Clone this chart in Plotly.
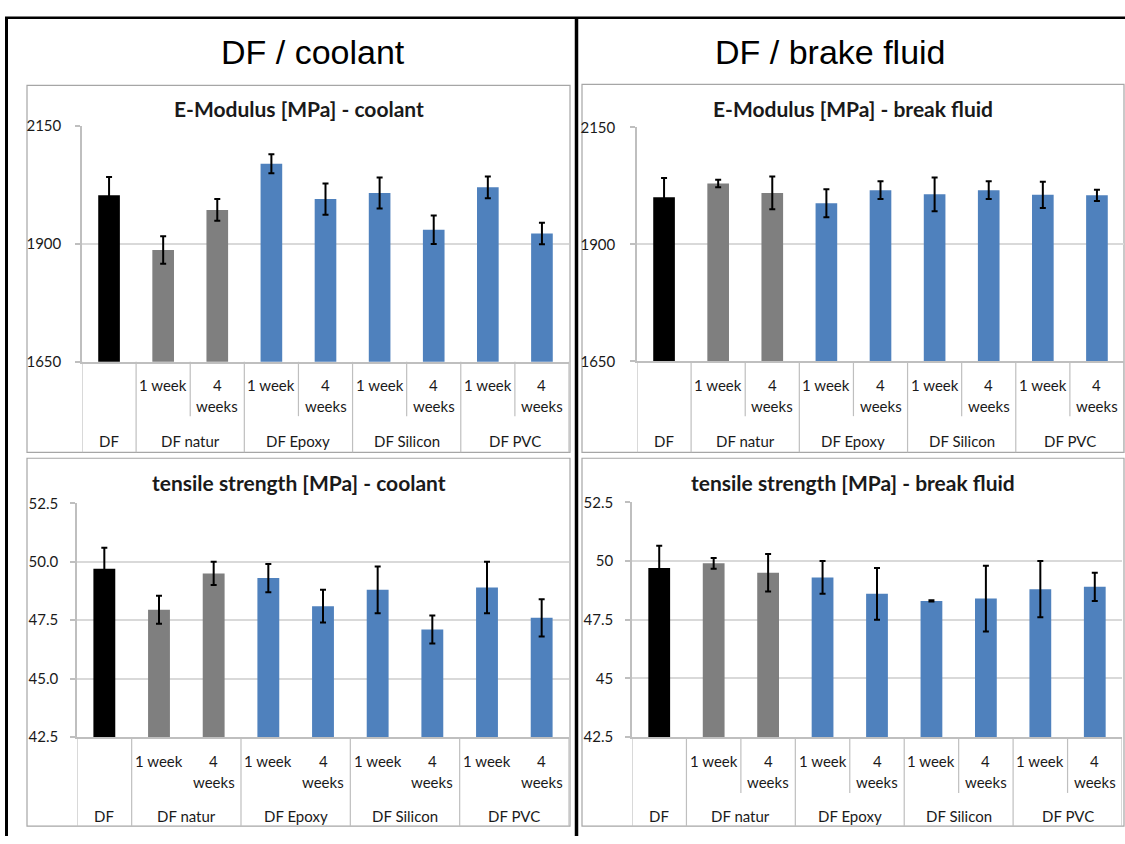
import plotly.graph_objects as go

# ---------------- data ----------------
groups = ["DF", "DF natur", "DF natur", "DF Epoxy", "DF Epoxy",
          "DF Silicon", "DF Silicon", "DF PVC", "DF PVC"]
sub_labels = ["", "1 week", "4<br>weeks", "1 week", "4<br>weeks",
              "1 week", "4<br>weeks", "1 week", "4<br>weeks"]

emod_coolant = [2003, 1887, 1972, 2070, 1995, 2008, 1930, 2020, 1922]
emod_coolant_err = [39, 29, 23, 20, 33, 33, 30, 23, 23]
emod_brake = [2001, 2030, 2010, 1988, 2016, 2007, 2016, 2006, 2005]
emod_brake_err = [41, 8, 35, 30, 19, 36, 19, 28, 12]
ts_coolant = [49.7, 47.95, 49.5, 49.3, 48.1, 48.8, 47.1, 48.9, 47.6]
ts_coolant_err = [0.9, 0.6, 0.5, 0.6, 0.7, 1.0, 0.6, 1.1, 0.8]
ts_brake = [49.7, 49.9, 49.5, 49.3, 48.6, 48.3, 48.4, 48.8, 48.9]
ts_brake_err = [0.95, 0.23, 0.8, 0.7, 1.1, 0.03, 1.4, 1.2, 0.6]

emod_ticks = [1650, 1900, 2150]
ts_ticks = [42.5, 45.0, 47.5, 50.0, 52.5]
ts_ticks_left = ["42.5", "45.0", "47.5", "50.0", "52.5"]
ts_ticks_right = ["42.5", "45", "47.5", "50", "52.5"]

header_left = "DF / coolant"
header_right = "DF / brake fluid"
titles = ["E-Modulus [MPa] - coolant", "E-Modulus [MPa] - break fluid",
          "tensile strength [MPa] - coolant", "tensile strength [MPa] - break fluid"]

# ---------------- styles ----------------
W, H = 1125, 844
group_colors = {"DF": "#000000", "DF natur": "#7f7f7f"}
default_color = "#4f81bd"
FONT = "Lato"
TXT = "#1a1a1a"
GRID = "#d9d9d9"
AX = "#bfbfbf"
BOX = "#a6a6a6"


def px(x):
    return x / W


def py(y):
    return 1 - y / H


# panel geometry in pixels
panels = [
    dict(vals=emod_coolant, err=emod_coolant_err, ticks=emod_ticks, ticktext=[str(t) for t in emod_ticks],
         rng=[1650, 2150], plot=(82, 569, 118.5, 359.5), box=(27, 570, 77, 452), title_y=101,
         row1=383, group_y=440, inner_end=415, inner=True, standoff=11),
    dict(vals=emod_brake, err=emod_brake_err, ticks=emod_ticks, ticktext=[str(t) for t in emod_ticks],
         rng=[1650, 2150], plot=(637, 1124, 120, 359), box=(582, 1124, 76, 452), title_y=101,
         row1=383, group_y=440, inner_end=415, inner=True, standoff=12),
    dict(vals=ts_coolant, err=ts_coolant_err, ticks=ts_ticks, ticktext=ts_ticks_left,
         rng=[42.5, 52.5], plot=(77, 569, 504, 743), box=(27, 570, 458, 834), title_y=483,
         row1=767, group_y=824, inner_end=800, inner=False, standoff=9),
    dict(vals=ts_brake, err=ts_brake_err, ticks=ts_ticks, ticktext=ts_ticks_right,
         rng=[42.5, 52.5], plot=(632, 1122, 503, 743), box=(582, 1124, 458, 834), title_y=483,
         row1=767, group_y=824, inner_end=800, inner=True, standoff=9),
]

fig = go.Figure()
shapes = []
annotations = []
n = len(groups)
xs = list(range(n))
colors = [group_colors.get(g, default_color) for g in groups]

# group boundaries derived from the category arrays
group_bounds = [-0.5] + [i - 0.5 for i in range(1, n) if groups[i] != groups[i - 1]] + [n - 0.5]
inner_bounds = [i - 0.5 for i in range(1, n) if groups[i] == groups[i - 1]]
group_spans = []
start = 0
for i in range(1, n + 1):
    if i == n or groups[i] != groups[start]:
        group_spans.append((groups[start], (start + i - 1) / 2))
        start = i

for k, p in enumerate(panels):
    idx = "" if k == 0 else str(k + 1)
    xa, ya = "x" + idx, "y" + idx
    x0, x1, y0, y1 = p["plot"]
    fig.add_trace(go.Bar(
        x=xs, y=p["vals"], xaxis=xa, yaxis=ya, width=0.4,
        marker=dict(color=colors, line=dict(width=0)),
        error_y=dict(type="data", array=p["err"], color="#000000", thickness=2, width=3),
        showlegend=False, hoverinfo="skip"))
    fig.update_layout(**{
        "xaxis" + idx: dict(domain=[px(x0), px(x1)], anchor=ya, range=[-0.5, n - 0.5],
                            showticklabels=False, showgrid=False, zeroline=False,
                            showline=True, linecolor=AX, linewidth=1.5, ticks="", fixedrange=True),
        "yaxis" + idx: dict(domain=[py(y1), py(y0)], anchor=xa, range=p["rng"],
                            tickvals=p["ticks"], ticktext=p["ticktext"],
                            showgrid=True, gridcolor=GRID, gridwidth=1.5, zeroline=False,
                            showline=True, linecolor=AX, linewidth=1.5,
                            ticks="outside", ticklen=5, tickcolor=AX, tickwidth=1.5,
                            ticklabelstandoff=p["standoff"],
                            tickfont=dict(family=FONT, size=15, color=TXT), fixedrange=True),
    })
    bx0, bx1, by0, by1 = p["box"]
    shapes.append(dict(type="rect", xref="paper", yref="paper", x0=px(bx0), x1=px(bx1),
                       y0=py(by1), y1=py(by0), line=dict(color=BOX, width=1.2), layer="below"))
    # category separators
    for b in group_bounds:
        shapes.append(dict(type="line", xref=xa, yref="paper", x0=b, x1=b, y0=py(y1), y1=py(by1),
                           line=dict(color=AX, width=1.2)))
    if p["inner"]:
        for b in inner_bounds:
            shapes.append(dict(type="line", xref=xa, yref="paper", x0=b, x1=b, y0=py(y1),
                               y1=py(p["inner_end"]), line=dict(color=AX, width=1.2)))
    # sub-category labels
    for i, lab in enumerate(sub_labels):
        for j, line in enumerate(lab.split("<br>")):
            if line:
                annotations.append(dict(x=i, xref=xa, y=py(p["row1"] + 22 * j), yref="paper",
                                        text=line, showarrow=False, xanchor="center", yanchor="middle",
                                        font=dict(family=FONT, size=15, color=TXT)))
    for name, cx in group_spans:
        annotations.append(dict(x=cx, xref=xa, y=py(p["group_y"]), yref="paper", text=name,
                                showarrow=False, xanchor="center", yanchor="middle",
                                font=dict(family=FONT, size=15, color=TXT)))
    annotations.append(dict(x=px((bx0 + bx1) / 2), xref="paper", y=py(p["title_y"]), yref="paper",
                            text="<b>" + titles[k] + "</b>", showarrow=False, xanchor="center",
                            yanchor="middle", font=dict(family=FONT, size=21, color=TXT)))

# headers
annotations.append(dict(x=px(313), y=py(43), xref="paper", yref="paper", text=header_left,
                        showarrow=False, xanchor="center", yanchor="middle",
                        font=dict(family="Liberation Sans", size=34, color="#000000")))
annotations.append(dict(x=px(830), y=py(43), xref="paper", yref="paper", text=header_right,
                        showarrow=False, xanchor="center", yanchor="middle",
                        font=dict(family="Liberation Sans", size=34, color="#000000")))

# outer black frame lines
shapes.append(dict(type="line", xref="paper", yref="paper", x0=px(6.5), x1=px(6.5), y0=py(8), y1=py(844),
                   line=dict(color="#000000", width=3)))
shapes.append(dict(type="line", xref="paper", yref="paper", x0=px(5), x1=px(1125), y0=py(8), y1=py(8),
                   line=dict(color="#000000", width=2.5)))
shapes.append(dict(type="line", xref="paper", yref="paper", x0=px(576.5), x1=px(576.5), y0=py(8), y1=py(844),
                   line=dict(color="#000000", width=3.5)))

fig.update_layout(width=W, height=H, autosize=False, margin=dict(l=0, r=0, t=0, b=0),
                  paper_bgcolor="white", plot_bgcolor="white", shapes=shapes,
                  annotations=annotations, bargap=0.6, showlegend=False)

post_js = (
    "document.documentElement.style.margin='0';"
    "document.documentElement.style.overflow='hidden';"
    "document.body.style.margin='0';"
    "document.body.style.overflow='hidden';"
)
fig.write_html("out.html", config={"displayModeBar": False}, post_script=post_js)
